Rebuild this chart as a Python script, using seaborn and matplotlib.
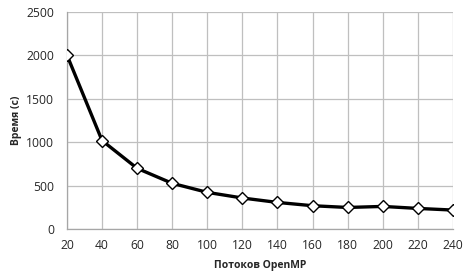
import numpy as np
import pandas as pd
import matplotlib
matplotlib.use('Agg')
import matplotlib.pyplot as plt
import seaborn as sns

# DATA
threads = [20, 40, 60, 80, 100, 120, 140, 160, 180, 200, 220, 240]
times = [2005, 1020, 700, 527, 423, 358, 307, 269, 249, 261, 238, 219]
y_ticks = [0, 500, 1000, 1500, 2000, 2500]

df = pd.DataFrame({'threads': threads, 'time': times})

sns.set_style('white')
plt.rcParams['font.family'] = ['Open Sans', 'DejaVu Sans']

fig = plt.figure(figsize=(4.65, 2.75), dpi=100)
ax = fig.add_axes([0.144, 0.167, 0.830, 0.789])

sns.lineplot(data=df, x='threads', y='time', ax=ax, color='black', linewidth=2.4,
             marker='D', markersize=6.5, markerfacecolor='white',
             markeredgecolor='black', markeredgewidth=1.0, zorder=3)

ax.set_xlim(20, 240)
ax.set_ylim(0, 2500)
ax.set_xticks(threads)
ax.set_yticks(y_ticks)
ax.grid(True, color='#bfbfbf', linewidth=0.9)
for s in ['top', 'right']:
    ax.spines[s].set_visible(False)
for s in ['left', 'bottom']:
    ax.spines[s].set_color('#a6a6a6')
    ax.spines[s].set_linewidth(0.9)
ax.tick_params(axis='both', length=4, width=0.9, color='#a6a6a6',
               labelsize=8.7, labelcolor='#262626', pad=2, direction='out')
ax.tick_params(axis='x', pad=3)
ax.tick_params(axis='y', pad=5)
ax.set_xlabel('Потоков OpenMP', fontsize=7.5, fontweight='bold', color='#262626', labelpad=6)
ax.set_ylabel('Время (с)', fontsize=7.5, fontweight='bold', color='#262626', labelpad=3)

fig.savefig('out.png', dpi=100)
